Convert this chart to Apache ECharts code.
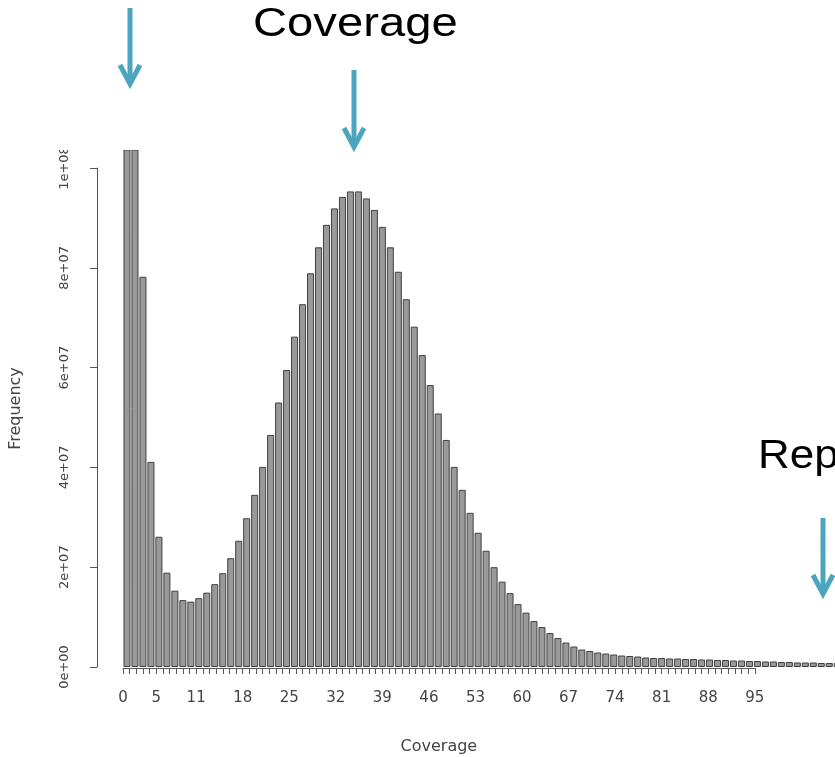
<!DOCTYPE html>
<html>
<head>
<meta charset="utf-8">
<title>Coverage histogram</title>
<script src="https://cdn.jsdelivr.net/npm/echarts@6/dist/echarts.min.js"></script>
<style>
  html, body { margin: 0; padding: 0; background: #fff; }
  #chart { width: 835px; height: 757px; }
</style>
</head>
<body>
<div id="chart"></div>
<script>
// bars, one per coverage value (frequency in millions)
const coverage = Array.from({ length: 90 }, (_, i) => String(i + 1))
const frequency = [
  260, 125, 78.2, 41.1, 26.1, 18.9, 15.3, 13.4, 13.1, 13.8,
  14.9, 16.6, 18.8, 21.8, 25.3, 29.8, 34.5, 40.1, 46.5, 53.0,
  59.5, 66.2, 72.7, 78.9, 84.1, 88.6, 91.9, 94.2, 95.3, 95.3,
  93.9, 91.6, 88.2, 84.1, 79.2, 73.7, 68.2, 62.5, 56.5, 50.8,
  45.5, 40.1, 35.5, 30.9, 26.9, 23.3, 20.0, 17.1, 14.8, 12.6,
  10.9, 9.2, 8.0, 6.8, 5.8, 4.9, 4.1, 3.5, 3.2, 2.9,
  2.7, 2.5, 2.3, 2.2, 2.1, 1.9, 1.8, 1.8, 1.7, 1.7,
  1.6, 1.6, 1.5, 1.5, 1.4, 1.4, 1.3, 1.3, 1.2, 1.2,
  1.1, 1.1, 1.0, 1.0, 0.9, 0.9, 0.9, 0.8, 0.8, 0.8
]
// axis drawn by R at integer positions, only some labels survive
const xTickLabels = [0, 5, 11, 18, 25, 32, 39, 46, 53, 60, 67, 74, 81, 88, 95]
const yTicks = [0, 20, 40, 60, 80, 100]

const ARROW = '#4ba5bd'
const AXIS = '#555'
const LABEL = '#444'
const FONT = 'DejaVu Sans'
const SLIDE_FONT = '40px "Liberation Sans", Arial, sans-serif'

function sci(v) {
  if (v === 0) return '0e+00'
  const s = (v * 1e6).toExponential(0)
  return s.replace(/e\+(\d)$/, 'e+0$1')
}

function arrow(x, y1, y2) {
  return [
    { type: 'line', z: 20, shape: { x1: x, y1: y1, x2: x, y2: y2 - 2 },
      style: { stroke: ARROW, lineWidth: 5 } },
    { type: 'polyline', z: 20, shape: { points: [[x - 10, y2 - 19], [x, y2], [x + 10, y2 - 19]] },
      style: { stroke: ARROW, lineWidth: 5, fill: null, lineJoin: 'miter' } }
  ]
}

const chart = echarts.init(document.getElementById('chart'))

const option = {
  animation: false,
  grid: [
    { left: 123, top: 150, width: 718.2, height: 517, outerBoundsMode: 'none', containLabel: false },
    { left: 97, top: 168, width: 10, height: 499, outerBoundsMode: 'none', containLabel: false },
    { left: 123, top: 150, width: 631.75, height: 518, outerBoundsMode: 'none', containLabel: false }
  ],
  xAxis: [
    { gridIndex: 0, type: 'category', data: coverage, show: false },
    { gridIndex: 1, type: 'value', show: false },
    {
      gridIndex: 2, type: 'value', min: 0, max: 95, interval: 1,
      axisLine: { show: true, lineStyle: { color: AXIS, width: 1 } },
      axisTick: { show: true, length: 6, lineStyle: { color: AXIS } },
      splitLine: { show: false },
      axisLabel: {
        margin: 23, fontFamily: FONT, fontSize: 15, color: LABEL,
        formatter: (v) => (xTickLabels.includes(v) ? String(v) : '')
      },
      name: 'Coverage', nameLocation: 'middle', nameGap: 71,
      nameTextStyle: { fontFamily: FONT, fontSize: 16, color: LABEL }
    }
  ],
  yAxis: [
    {
      gridIndex: 0, type: 'value', min: 0, max: 103.6,
      axisLine: { show: false }, axisTick: { show: false },
      axisLabel: { show: false }, splitLine: { show: false },
      name: 'Frequency', nameLocation: 'middle', nameGap: 99,
      nameTextStyle: { fontFamily: FONT, fontSize: 16, color: LABEL }
    },
    {
      gridIndex: 1, type: 'value', min: 0, max: 100, interval: 20,
      axisLine: { show: true, lineStyle: { color: AXIS, width: 1 } },
      axisTick: { show: true, length: 7, lineStyle: { color: AXIS } },
      splitLine: { show: false },
      axisLabel: {
        rotate: 90, margin: 26, fontFamily: FONT, fontSize: 13, color: LABEL,
        formatter: (v) => (yTicks.includes(v) ? sci(v) : '')
      }
    },
    { gridIndex: 2, type: 'value', show: false }
  ],
  series: [
    {
      type: 'bar',
      xAxisIndex: 0,
      yAxisIndex: 0,
      data: frequency,
      barCategoryGap: '12%',
      itemStyle: { color: '#999', borderColor: '#404040', borderWidth: 1 },
      emphasis: { disabled: true }
    }
  ],
  graphic: [
    // the embedded plot picture is cut off at the top
    { type: 'rect', z: 10, shape: { x: 0, y: 0, width: 835, height: 150 }, style: { fill: '#fff' } },
    ...arrow(130, 8, 84),
    ...arrow(354, 70, 147),
    ...arrow(823, 518, 594),
    { type: 'text', z: 20, x: 253, y: 25, scaleX: 1.18,
      style: { text: 'Coverage', font: SLIDE_FONT, fill: '#000',
        textAlign: 'left', textVerticalAlign: 'middle' } },
    { type: 'text', z: 20, x: 758, y: 457, scaleX: 1.1,
      style: { text: 'Repeats', font: SLIDE_FONT, fill: '#000',
        textAlign: 'left', textVerticalAlign: 'middle' } }
  ]
}

chart.setOption(option)
</script>
</body>
</html>
